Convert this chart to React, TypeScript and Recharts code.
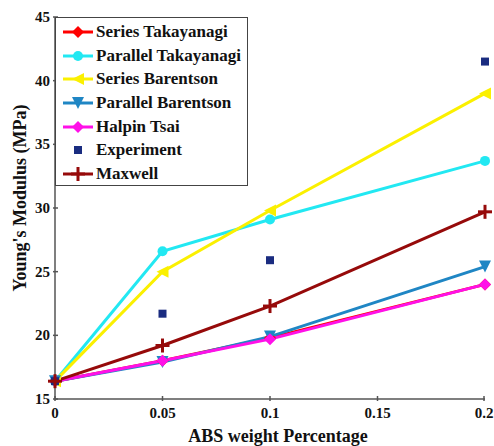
import React from "react";
import { LineChart, Line, XAxis, YAxis, Label } from "recharts";

const weights = [0, 0.05, 0.1, 0.2];
const seriesTakayanagi = [16.4, 18.0, 19.8, 24.0];
const parallelTakayanagi = [16.4, 26.6, 29.1, 33.7];
const seriesBarentson = [16.4, 25.0, 29.8, 39.0];
const parallelBarentson = [16.4, 17.9, 19.9, 25.4];
const halpinTsai = [16.4, 18.0, 19.7, 24.0];
const experiment = [16.4, 21.7, 25.9, 41.5];
const maxwell = [16.4, 19.2, 22.3, 29.7];

const xTicks = [0, 0.05, 0.1, 0.15, 0.2];
const yTicks = [15, 20, 25, 30, 35, 40, 45];

const data = weights.map((w, i) => ({
  w,
  st: seriesTakayanagi[i],
  pt: parallelTakayanagi[i],
  sb: seriesBarentson[i],
  pb: parallelBarentson[i],
  ht: halpinTsai[i],
  ex: experiment[i],
  mx: maxwell[i],
}));

type Shape = "diamond" | "circle" | "left" | "down" | "square" | "plus";

const series: { key: string; name: string; color: string; shape: Shape; line: boolean }[] = [
  { key: "st", name: "Series Takayanagi", color: "#ff0000", shape: "diamond", line: true },
  { key: "pt", name: "Parallel Takayanagi", color: "#22e8f2", shape: "circle", line: true },
  { key: "sb", name: "Series Barentson", color: "#fbf000", shape: "left", line: true },
  { key: "pb", name: "Parallel Barentson", color: "#1f86c4", shape: "down", line: true },
  { key: "ht", name: "Halpin Tsai", color: "#ff10e8", shape: "diamond", line: true },
  { key: "ex", name: "Experiment", color: "#1a2c80", shape: "square", line: false },
  { key: "mx", name: "Maxwell", color: "#960a0a", shape: "plus", line: true },
];

const font = "'Liberation Serif', 'Times New Roman', serif";

function Marker({ cx, cy, shape, color }: { cx: number; cy: number; shape: Shape; color: string }) {
  const s = 6;
  switch (shape) {
    case "diamond":
      return <polygon points={`${cx},${cy - s} ${cx + s},${cy} ${cx},${cy + s} ${cx - s},${cy}`} fill={color} />;
    case "circle":
      return <circle cx={cx} cy={cy} r={5} fill={color} />;
    case "left":
      return <polygon points={`${cx - s},${cy} ${cx + s},${cy - s} ${cx + s},${cy + s}`} fill={color} />;
    case "down":
      return <polygon points={`${cx - s},${cy - s} ${cx + s},${cy - s} ${cx},${cy + s}`} fill={color} />;
    case "square":
      return <rect x={cx - 4} y={cy - 4} width={8} height={8} fill={color} />;
    case "plus":
      return (
        <g stroke={color} strokeWidth={3}>
          <line x1={cx - 7} y1={cy} x2={cx + 7} y2={cy} />
          <line x1={cx} y1={cy - 7} x2={cx} y2={cy + 7} />
        </g>
      );
  }
}

function XTick(props: any) {
  const { x, y, payload } = props;
  return (
    <g>
      <line x1={x} y1={y} x2={x} y2={y - 5} stroke="#555" strokeWidth={1.5} />
      <text x={x} y={y + 17} textAnchor="middle" fontFamily={font} fontWeight="bold" fontSize={15} fill="#111">
        {String(payload.value)}
      </text>
    </g>
  );
}

function YTick(props: any) {
  const { x, y, payload } = props;
  return (
    <g>
      <line x1={x} y1={y} x2={x + 5} y2={y} stroke="#555" strokeWidth={1.5} />
      <text x={x - 3} y={y + 5} textAnchor="end" fontFamily={font} fontWeight="bold" fontSize={15} fill="#111">
        {String(payload.value)}
      </text>
    </g>
  );
}

function YTitle(props: any) {
  const vb = props.viewBox;
  const cx = vb.x + 26;
  const cy = vb.y + vb.height / 2 - 10;
  return (
    <text
      x={cx}
      y={cy}
      transform={`rotate(-90, ${cx}, ${cy})`}
      textAnchor="middle"
      fontFamily={font}
      fontWeight="bold"
      fontSize={18}
      fill="#111"
    >
      Young's Modulus (MPa)
    </text>
  );
}

function LegendBox() {
  return (
    <div
      style={{
        position: "absolute",
        left: 55,
        top: 17,
        width: 193,
        height: 169,
        border: "1px solid #444",
        background: "#fff",
        boxSizing: "border-box",
        paddingTop: 2,
      }}
    >
      {series.map((s) => (
        <div key={s.key} style={{ display: "flex", alignItems: "center", height: 23.7 }}>
          <svg width={36} height={20} style={{ marginLeft: 4 }}>
            {s.line && <line x1={3} y1={10} x2={33} y2={10} stroke={s.color} strokeWidth={3} />}
            <Marker cx={18} cy={10} shape={s.shape} color={s.color} />
          </svg>
          <span style={{ fontFamily: font, fontWeight: "bold", fontSize: 17, color: "#111", whiteSpace: "nowrap" }}>
            {s.name}
          </span>
        </div>
      ))}
    </div>
  );
}

export default function App() {
  return (
    <div style={{ position: "absolute", left: 0, top: 0, width: 494, height: 446, background: "#fff" }}>
      <LineChart width={494} height={446} data={data} margin={{ top: 17, right: 9, left: 0, bottom: 0 }}>
        <XAxis
          dataKey="w"
          type="number"
          domain={[0, 0.2]}
          ticks={xTicks}
          height={47}
          tickSize={0}
          tickLine={false}
          tick={<XTick />}
          axisLine={{ stroke: "#555", strokeWidth: 1.5 }}
        >
          <Label
            value="ABS weight Percentage"
            position="insideBottom"
            offset={4}
            dx={8}
            style={{ fontFamily: font, fontWeight: "bold", fontSize: 18, fill: "#111" }}
          />
        </XAxis>
        <YAxis
          type="number"
          domain={[15, 45]}
          ticks={yTicks}
          width={55}
          tickSize={0}
          tickLine={false}
          tick={<YTick />}
          axisLine={{ stroke: "#555", strokeWidth: 1.5 }}
        >
          <Label content={<YTitle />} />
        </YAxis>
        {series.map((s) => (
          <Line
            key={s.key}
            dataKey={s.key}
            name={s.name}
            type="linear"
            stroke={s.line ? s.color : "none"}
            strokeWidth={3}
            isAnimationActive={false}
            dot={(p: any) => <Marker key={`${s.key}-${p.index}`} cx={p.cx} cy={p.cy} shape={s.shape} color={s.color} />}
            activeDot={false}
          />
        ))}
      </LineChart>
      <LegendBox />
    </div>
  );
}
